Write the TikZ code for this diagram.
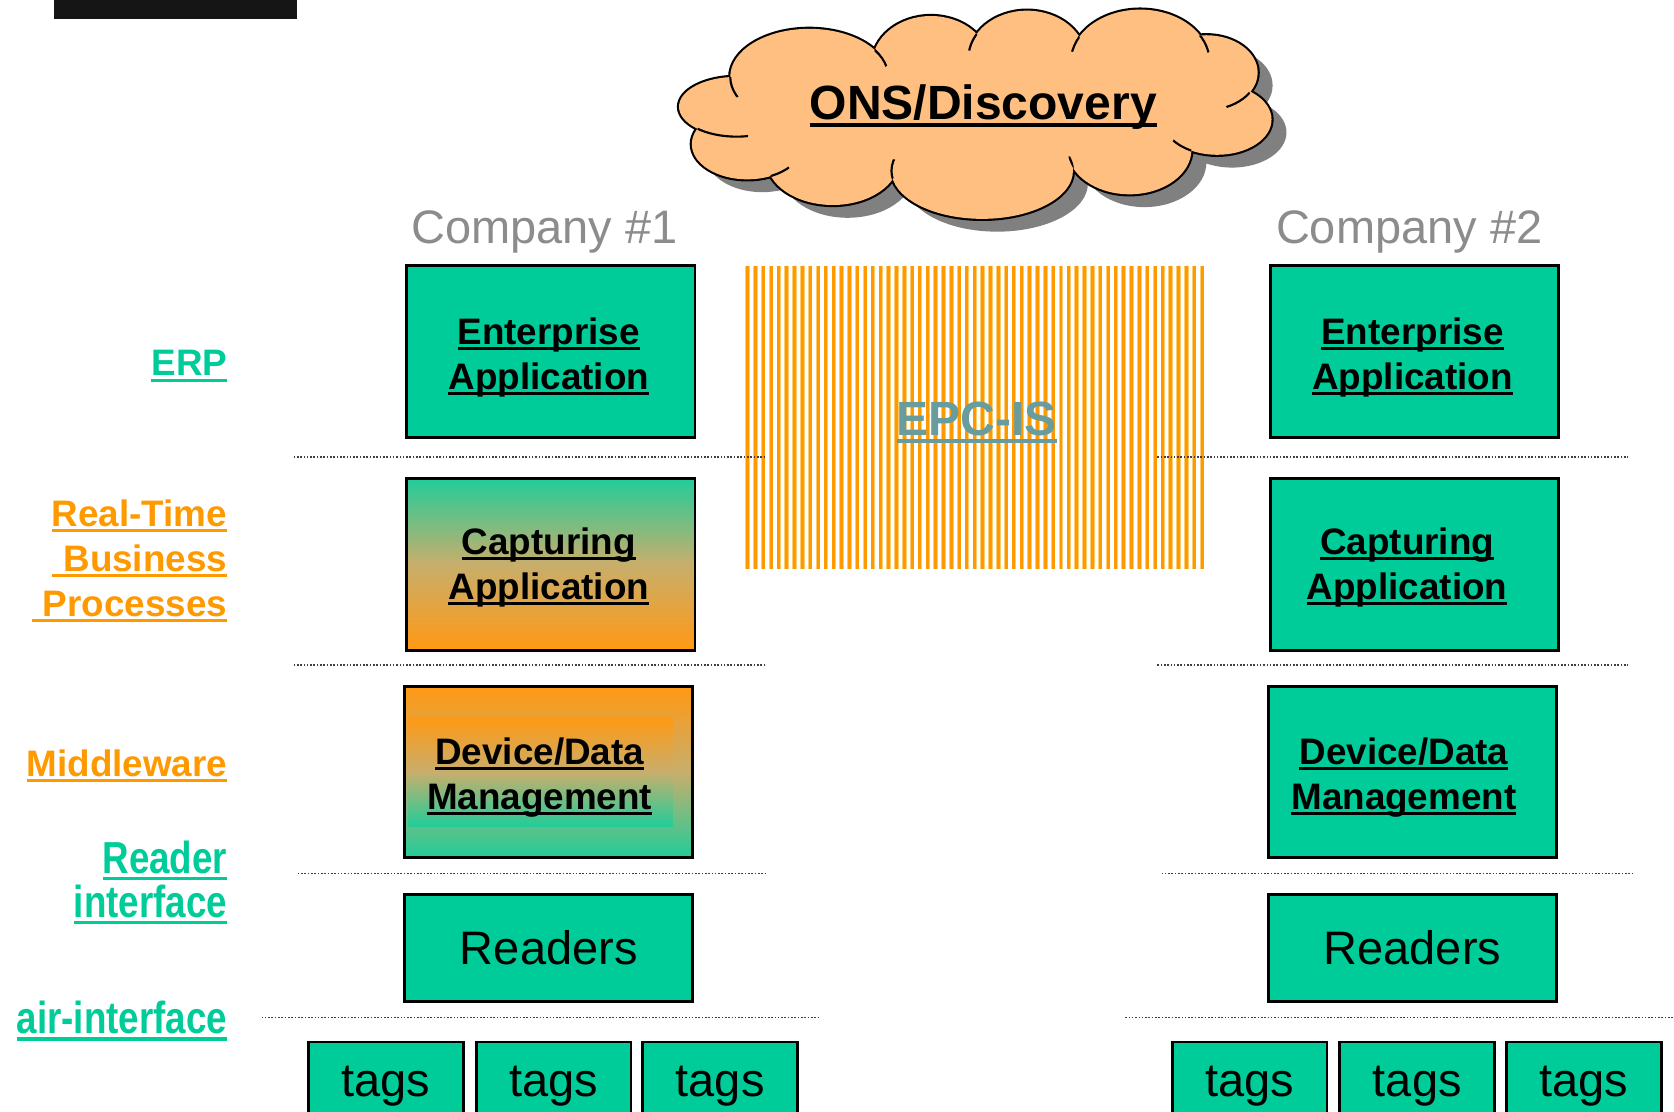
\documentclass[tikz,border=0pt]{standalone}
\usepackage{fontspec}
\setmainfont{Liberation Sans}

\definecolor{boxgreen}{HTML}{00CC99}
\definecolor{gradgreen}{HTML}{22CC99}
\definecolor{lblorange}{HTML}{FF9900}
\definecolor{gradorange}{HTML}{FF9914}
\definecolor{gradmid}{HTML}{C8AE6C}
\definecolor{cloudfill}{HTML}{FFBF80}
\definecolor{cloudshadow}{HTML}{808080}
\definecolor{epcteal}{HTML}{699C9C}
\definecolor{companygray}{HTML}{8C8C8C}
\definecolor{stripeorange}{HTML}{FF9900}
\definecolor{stripelight}{HTML}{FFCC70}
\definecolor{sepgray}{HTML}{404040}
\definecolor{topbar}{HTML}{151515}

% thick underline in the current colour
\newcommand\ulbar[1]{\setbox0\hbox{#1}\rlap{\rule[-0.16em]{\wd0}{0.08em}}\box0}
\newcommand\narrowul[1]{\scalebox{0.82}[1]{\ulbar{#1}}}

% lobes of the cloud
\newcommand\lobeA{(758,72) ellipse [x radius=74, y radius=45]}
\newcommand\lobeAA{(872,60) ellipse [x radius=55, y radius=45]}
\newcommand\lobeF{(962,55) ellipse [x radius=55, y radius=45]}
\newcommand\lobeG{(1068,58) ellipse [x radius=65, y radius=49]}
\newcommand\lobeH{(1130,68) ellipse [x radius=48, y radius=35]}
\newcommand\lobeI{(1140,112) ellipse [x radius=51, y radius=33]}
\newcommand\lobeJ{(1058,140) ellipse [x radius=58, y radius=42]}
\newcommand\lobeE{(920,160) ellipse [x radius=85, y radius=45]}
\newcommand\lobeD{(780,150) ellipse [x radius=62, y radius=42]}
\newcommand\lobeC{(700,135) ellipse [x radius=52, y radius=33]}
\newcommand\lobeB{(690,100) ellipse [x radius=54, y radius=28]}
\newcommand\cloudlobes{\lobeA \lobeAA \lobeF \lobeG \lobeH \lobeI \lobeJ
  \lobeE \lobeD \lobeC \lobeB (915,105) ellipse [x radius=190, y radius=60]}

% short inner end of lobe #1 where it runs into lobe #2, near point #3
\newcommand\cloudhook[4]{%
  \begin{scope}
    \clip #2;
    \clip #3 circle [radius=#4];
    \draw[black, line width=2pt] #1;
  \end{scope}}

\tikzset{
  box/.style={draw=black, line width=2.6pt, fill=boxgreen, inner sep=0pt,
    minimum width=270pt, minimum height=161pt},
  boxtext/.style={inner sep=0pt, align=center,
    font=\fontsize{34.5}{42}\selectfont\bfseries},
  readerbox/.style={draw=black, line width=2.6pt, fill=boxgreen, inner sep=0pt,
    minimum width=270pt, minimum height=100pt, font=\fontsize{44}{50}\selectfont},
  tagbox/.style={draw=black, line width=2.6pt, fill=boxgreen, inner sep=0pt,
    minimum width=145pt, minimum height=82pt, font=\fontsize{44}{50}\selectfont},
  lbl/.style={inner sep=0pt, anchor=base east, font=\fontsize{34.5}{42}\selectfont\bfseries},
  narrowlbl/.style={inner sep=0pt, anchor=base east, font=\fontsize{42}{42}\selectfont\bfseries},
  company/.style={inner sep=0pt, anchor=base, text=companygray, font=\fontsize{44}{50}\selectfont},
  sep/.style={sepgray, line width=1.5pt, dash pattern=on 1.5pt off 1.6pt},
}

\begin{document}
\begin{tikzpicture}[x=1pt, y=-1pt]
\useasboundingbox (0,0) rectangle (1568,1041);
\clip (0,0) rectangle (1568,1041);
\fill[white] (0,0) rectangle (1568,1041);

% dark bar in the top left corner
\fill[topbar] (51,0) rectangle (278,18);

% ---------- ONS cloud ----------
\begin{scope}[shift={(14,12)}]
  \fill[cloudshadow] \cloudlobes;
\end{scope}
\draw[black, line width=4pt] \cloudlobes;
\fill[cloudfill] \cloudlobes;
\cloudhook{\lobeA}{\lobeB}{(686,80)}{12}
\cloudhook{\lobeA}{\lobeAA}{(824,52)}{12}
\cloudhook{\lobeF}{\lobeAA}{(911,38)}{10}
\cloudhook{\lobeG}{\lobeF}{(1007,40)}{9}
\cloudhook{\lobeG}{\lobeH}{(1128,40)}{10}
\cloudhook{\lobeH}{\lobeI}{(1160,94)}{13}
\cloudhook{\lobeI}{\lobeJ}{(1107,137)}{10}
\cloudhook{\lobeE}{\lobeJ}{(1004,154)}{8}
\cloudhook{\lobeE}{\lobeD}{(836,159)}{10}
\cloudhook{\lobeC}{\lobeD}{(730,161)}{10}
\cloudhook{\lobeB}{\lobeC}{(677,124)}{24}
\node[inner sep=0pt, anchor=base, font=\fontsize{45}{50}\selectfont\bfseries]
  (ons) at (921,112) {\ulbar{ONS/Discovery}};

% ---------- company headings ----------
\node[company] (comp1) at (510,228) {Company \#1};
\node[company] (comp2) at (1320,228) {Company \#2};

% ---------- EPC-IS striped band ----------
\foreach \i in {0,...,58} {
  \draw[stripelight, line width=4.2pt] (700.2+\i*7.34,249) -- ++(0,284);
  \draw[stripeorange, line width=2.8pt] (700.2+\i*7.34,249) -- ++(0,284);
}
\node[inner sep=0pt, anchor=base, text=epcteal, font=\fontsize{45}{50}\selectfont\bfseries]
  (epcis) at (915,408) {\ulbar{EPC-IS}};

% ---------- layer separators ----------
\draw[sep] (275,428) -- (716,428);
\draw[sep] (1084,428) -- (1525,428);
\draw[sep] (275,623) -- (716,623);
\draw[sep] (1084,623) -- (1525,623);
\draw[sep] (279,818) -- (719,818);
\draw[sep] (1088,818) -- (1529,818);
\draw[sep] (245,953) -- (768,953);
\draw[sep] (1054,953) -- (1568,953);

% ---------- company 1 stack ----------
\node[box] (ea1) at (516,329.5) {};
\node[boxtext] (ea1t) at ([xshift=-2pt, yshift=-5pt]ea1.center) {\ulbar{Enterprise}\\\ulbar{Application}};
\node[box, top color=gradgreen, bottom color=gradorange, middle color=gradmid]
  (ca1) at (516,528.5) {};
\node[boxtext] (ca1t) at ([xshift=-2pt, yshift=-3pt]ca1.center) {\ulbar{Capturing}\\\ulbar{Application}};
\node[box, minimum height=160pt, top color=gradorange, bottom color=gradgreen, middle color=gradmid]
  (dd1) at (514,723) {};
\shade[top color=gradorange, bottom color=gradgreen, middle color=gradmid]
  (382.5,672) rectangle (630,774);
\node[boxtext] (dd1t) at ([xshift=-8.5pt, yshift=-5pt]dd1.center) {\ulbar{Device/Data}\\\ulbar{Management}};
\node[readerbox] (rd1) at (514,888) {Readers};
\node[tagbox] (tg1a) at (361.5,1017) {tags};
\node[tagbox] (tg1b) at (518.5,1017) {tags};
\node[tagbox] (tg1c) at (674.5,1017) {tags};

% ---------- company 2 stack ----------
\node[box] (ea2) at (1325,329.5) {};
\node[boxtext] (ea2t) at ([xshift=-2pt, yshift=-5pt]ea2.center) {\ulbar{Enterprise}\\\ulbar{Application}};
\node[box] (ca2) at (1325,528.5) {};
\node[boxtext] (ca2t) at ([xshift=-7pt, yshift=-3pt]ca2.center) {\ulbar{Capturing}\\\ulbar{Application}};
\node[box, minimum height=160pt] (dd2) at (1323,723) {};
\node[boxtext] (dd2t) at ([xshift=-8pt, yshift=-5pt]dd2.center) {\ulbar{Device/Data}\\\ulbar{Management}};
\node[readerbox] (rd2) at (1323,888) {Readers};
\node[tagbox] (tg2a) at (1170.5,1017) {tags};
\node[tagbox] (tg2b) at (1327.5,1017) {tags};
\node[tagbox] (tg2c) at (1483.5,1017) {tags};

% ---------- layer names ----------
\node[lbl, text=boxgreen] (erp) at (213,352) {\ulbar{ERP}};
\node[lbl, text=lblorange] (rt1) at (213,493) {\ulbar{Real-Time}};
\node[lbl, text=lblorange] (rt2) at (213,535) {\ulbar{\hspace{0.3em}Business}};
\node[lbl, text=lblorange] (rt3) at (213,577) {\ulbar{\hspace{0.3em}Processes}};
\node[lbl, text=lblorange] (mw) at (213,727) {\ulbar{Middleware}};
\node[narrowlbl, text=boxgreen] (ri1) at (213,818) {\narrowul{Reader}};
\node[narrowlbl, text=boxgreen] (ri2) at (213,859) {\narrowul{interface}};
\node[narrowlbl, text=boxgreen] (air) at (213,968) {\narrowul{air-interface}};
\end{tikzpicture}
\end{document}
